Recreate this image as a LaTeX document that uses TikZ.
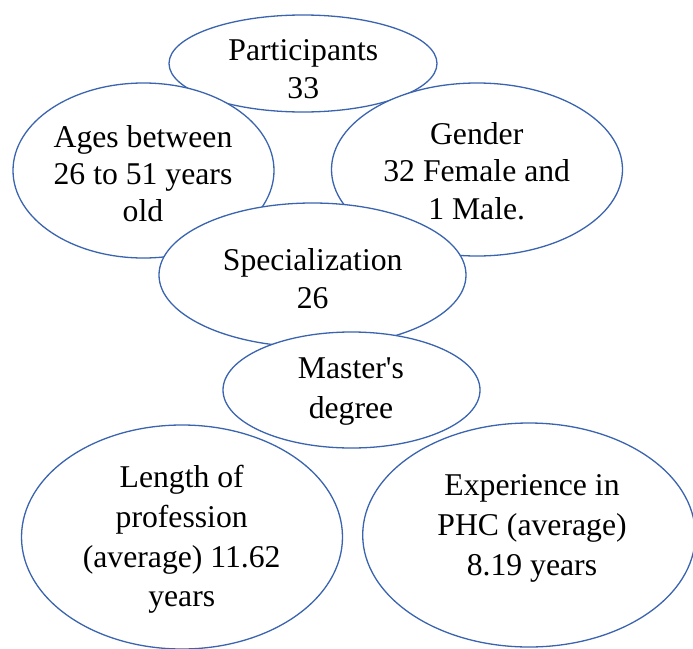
\documentclass[tikz,border=0pt]{standalone}
\usepackage{fontspec}
\setmainfont{Liberation Serif}
\usetikzlibrary{shapes.geometric}
\definecolor{bubblue}{RGB}{58,100,175}
\newcommand{\bubfont}[1]{\fontsize{31.7}{#1}\selectfont}
\tikzset{
  bub/.style={ellipse, draw=bubblue, fill=white, line width=1.3pt, inner sep=0pt},
  bubtext/.style={align=center, inner sep=0pt, text=black},
}
\begin{document}
\begin{tikzpicture}[x=1pt,y=-1pt]
\useasboundingbox (0,0) rectangle (693,648);
\clip (0,0) rectangle (693,648);
% ellipses (drawn in stacking order)
\node[bub, minimum width=268pt, minimum height=97pt] (eP) at (303,63.5) {};
\node[bub, minimum width=261pt, minimum height=175pt] (eA) at (143.5,170.5) {};
\node[bub, minimum width=291pt, minimum height=173pt] (eG) at (477,169.5) {};
\node[bub, minimum width=307pt, minimum height=144pt] (eS) at (312.5,275) {};
\node[bub, minimum width=257pt, minimum height=116pt] (eM) at (351.5,390) {};
\node[bub, minimum width=321pt, minimum height=224pt] (eL) at (182,537) {};
\node[bub, minimum width=332.6pt, minimum height=224pt] (eE) at (529,535) {};
% texts
\node[bubtext, font=\bubfont{38.5}] (tP) at (303.3,71.6) {\strut Participants\\33\strut};
\node[bubtext, font=\bubfont{37}] (tA) at (143,176.6) {\strut Ages between\\26 to 51 years\\old\strut};
\node[bubtext, font=\bubfont{37.5}] (tG) at (476.7,174) {\strut Gender\\32 Female and\\1 Male.\strut};
\node[bubtext, font=\bubfont{38}] (tS) at (312.7,281.4) {\strut Specialization\\26\strut};
\node[bubtext, font=\bubfont{40}] (tM) at (351,390.3) {\strut Master\textquotesingle s\\degree\strut};
\node[bubtext, font=\bubfont{39.8}] (tL) at (181.7,539.2) {\strut Length of\\profession\\(average) 11.62\\years\strut};
\node[bubtext, font=\bubfont{40}] (tE) at (532,527) {\strut Experience in\\PHC (average)\\8.19 years\strut};
\end{tikzpicture}
\end{document}
